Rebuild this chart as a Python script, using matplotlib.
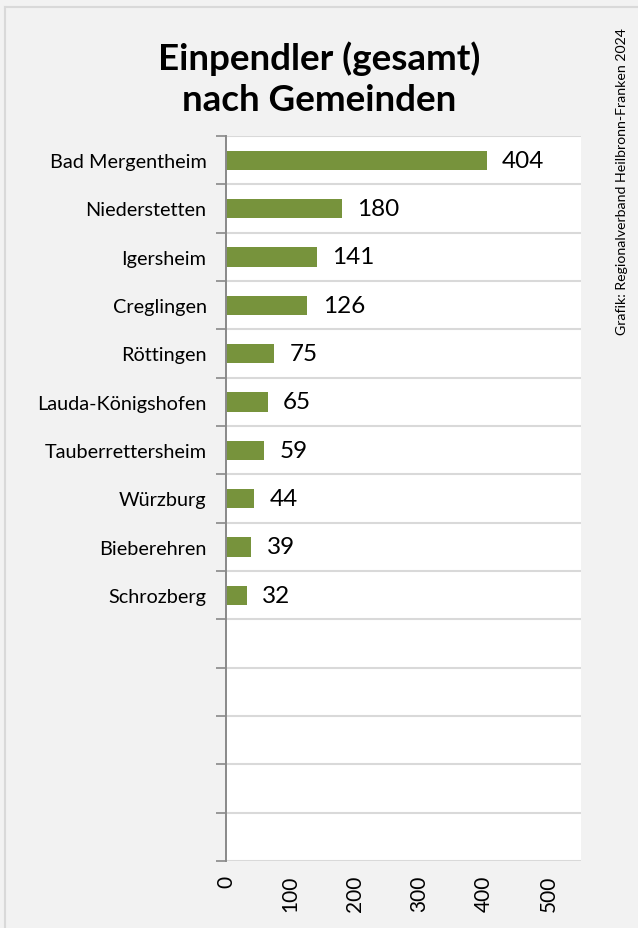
import matplotlib.pyplot as plt
from matplotlib.lines import Line2D
from matplotlib.ticker import FixedLocator

# data
gemeinden = ["Bad Mergentheim", "Niederstetten", "Igersheim", "Creglingen", "Röttingen",
             "Lauda-Königshofen", "Tauberrettersheim", "Würzburg", "Bieberehren", "Schrozberg"]
einpendler = [404, 180, 141, 126, 75, 65, 59, 44, 39, 32]
x_ticks = [0, 100, 200, 300, 400, 500]
n_slots = 15  # chart leaves room for 15 categories

plt.rcParams['font.family'] = ['Lato', 'DejaVu Sans']

fig = plt.figure(figsize=(6.38, 9.29), dpi=100)
fig.patch.set_facecolor('#F2F2F2')

# chart border: only the left and top edges are visible in the reference
bx, by = 4.5 / 638, 1 - 8 / 929
fig.lines.append(Line2D([bx, bx], [0, by], transform=fig.transFigure, color='#D9D9D9', lw=1.5))
fig.lines.append(Line2D([bx, 1], [by, by], transform=fig.transFigure, color='#D9D9D9', lw=1.5))

ax = fig.add_axes([226 / 638, 1 - 862 / 929, 355 / 638, 725 / 929])
ax.set_facecolor('white')

pos = list(range(len(gemeinden)))
ax.barh(pos, einpendler, height=0.4, color='#77933C', zorder=3)

for p, v in zip(pos, einpendler):
    ax.annotate(str(v), (v, p), xytext=(11, 0), textcoords='offset points',
                va='center', ha='left', fontsize=17.5, color='black')

ax.set_xlim(0, 550)
ax.set_ylim(n_slots - 0.5, -0.5)

# boundaries as major ticks (with gridlines), names at slot centres
bounds = [i - 0.5 for i in range(n_slots + 1)]
ax.yaxis.set_major_locator(FixedLocator(bounds))
ax.yaxis.set_major_formatter(plt.NullFormatter())
ax.yaxis.set_minor_locator(FixedLocator(pos))
ax.set_yticklabels(gemeinden, minor=True)
ax.tick_params(axis='y', which='major', length=7, width=1.2, color='#898989', direction='out')
ax.tick_params(axis='y', which='minor', length=0, pad=14, labelsize=14.3)
ax.grid(True, axis='y', which='major', color='#D9D9D9', linewidth=1.5, zorder=0)

ax.set_xticks(x_ticks)
ax.set_xticklabels([str(t) for t in x_ticks], rotation=90, va='top', ha='center')
ax.tick_params(axis='x', length=0, pad=10, labelsize=15)

for side in ['top', 'right', 'bottom']:
    ax.spines[side].set_visible(False)
ax.spines['left'].set_color('#898989')
ax.spines['left'].set_linewidth(1.4)
ax.spines['left'].set_zorder(4)

fig.text(319 / 638, 1 - 79 / 929, "Einpendler (gesamt)\nnach Gemeinden",
         ha='center', va='center', fontsize=26.5, fontweight='bold', linespacing=1.3)

fig.text(622 / 638, 1 - 28 / 929, "Grafik: Regionalverband Heilbronn-Franken 2024",
         rotation=90, ha='center', va='top', fontsize=10.2)

fig.savefig('out.png', dpi=100, facecolor=fig.get_facecolor())
